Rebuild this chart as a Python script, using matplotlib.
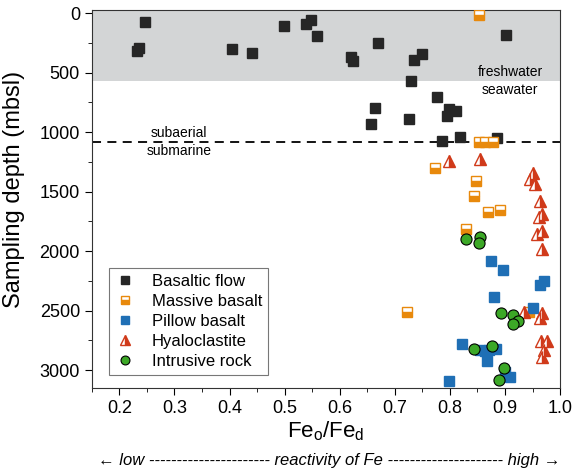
import matplotlib
matplotlib.use('Agg')
import matplotlib.pyplot as plt
from matplotlib.ticker import MultipleLocator

plt.rcParams['font.family'] = ['Liberation Sans', 'DejaVu Sans']
plt.rcParams['mathtext.fontset'] = 'custom'
plt.rcParams['mathtext.rm'] = 'Liberation Sans'
plt.rcParams['mathtext.it'] = 'Liberation Sans:italic'

# Basaltic flow
flow_x = [0.247, 0.236, 0.232, 0.405, 0.441, 0.498, 0.539, 0.547, 0.558, 0.620, 0.625,
          0.670, 0.735, 0.750, 0.729, 0.901, 0.776, 0.664, 0.656, 0.725, 0.798, 0.811,
          0.795, 0.785, 0.818, 0.886]
flow_y = [71, 290, 320, 300, 331, 107, 93, 56, 191, 365, 400,
          247, 393, 342, 567, 180, 701, 799, 931, 889, 807, 819,
          864, 1071, 1038, 1049]

# Massive basalt
mass_x = [0.852, 0.852, 0.864, 0.878, 0.773, 0.847, 0.844, 0.869, 0.891, 0.830, 0.722, 0.944]
mass_y = [15, 1085, 1085, 1085, 1304, 1410, 1534, 1671, 1654, 1812, 2509, 2515]

# Pillow basalt
pill_x = [0.875, 0.896, 0.971, 0.964, 0.880, 0.951, 0.822, 0.855, 0.864, 0.871, 0.884,
          0.868, 0.900, 0.909, 0.798]
pill_y = [2081, 2159, 2252, 2288, 2383, 2476, 2779, 2832, 2840, 2832, 2823,
          2927, 3014, 3056, 3093]

# Hyaloclastite
hyal_x = [0.798, 0.855, 0.950, 0.945, 0.955, 0.964, 0.968, 0.961, 0.968, 0.959, 0.968,
          0.935, 0.968, 0.964, 0.966, 0.976, 0.970, 0.967]
hyal_y = [1242, 1228, 1346, 1394, 1438, 1579, 1688, 1716, 1831, 1859, 1982,
          2515, 2523, 2565, 2754, 2754, 2832, 2888]

# Intrusive rock
intr_x = [0.829, 0.855, 0.853, 0.893, 0.915, 0.924, 0.915, 0.844, 0.876, 0.899, 0.889]
intr_y = [1901, 1884, 1929, 2521, 2540, 2588, 2613, 2826, 2798, 2986, 3084]

fresh_depth = 570
sub_depth = 1080

fig = plt.figure(figsize=(5.81, 4.73), dpi=100)
ax = fig.add_axes([0.158, 0.180, 0.806, 0.799])

ax.axhspan(-30, fresh_depth, color='#d3d5d6', zorder=0, lw=0)
ax.axhline(sub_depth, color='black', ls=(0, (5, 3.5)), lw=1.3, zorder=1)

ax.plot(flow_x, flow_y, 's', color='#262626', ms=7, mec='#262626', label='Basaltic flow', zorder=3)
ax.plot(mass_x, mass_y, 's', color='#e8890c', ms=7, mec='#e8890c', mew=1,
        fillstyle='bottom', markerfacecoloralt='white', label='Massive basalt', zorder=3)
ax.plot(pill_x, pill_y, 's', color='#1f6fb5', ms=7, mec='#1f6fb5', label='Pillow basalt', zorder=3)
ax.plot(hyal_x, hyal_y, '^', color='#d03a1a', ms=8.5, mec='#d03a1a', mew=1,
        fillstyle='right', markerfacecoloralt='white', label='Hyaloclastite', zorder=3)
ax.plot(intr_x, intr_y, 'o', color='#3ca827', ms=8, mec='black', mew=0.8,
        label='Intrusive rock', zorder=4)

ax.text(0.909, 494, 'freshwater', ha='center', va='center', fontsize=10)
ax.text(0.909, 645, 'seawater', ha='center', va='center', fontsize=10)
ax.text(0.309, 1006, 'subaerial', ha='center', va='center', fontsize=10)
ax.text(0.309, 1158, 'submarine', ha='center', va='center', fontsize=10)

ax.set_xlim(0.15, 1.0)
ax.set_ylim(3150, -28)
ax.xaxis.set_major_locator(MultipleLocator(0.1))
ax.xaxis.set_minor_locator(MultipleLocator(0.05))
ax.yaxis.set_major_locator(MultipleLocator(500))
ax.yaxis.set_minor_locator(MultipleLocator(250))
ax.tick_params(which='both', direction='out', labelsize=13)
ax.tick_params(which='major', length=5)
ax.tick_params(which='minor', length=3)
ax.xaxis.set_major_formatter(matplotlib.ticker.FormatStrFormatter('%.1f'))
for s in ax.spines.values():
    s.set_color('#333333')

ax.set_xlabel(r'Fe$_\mathrm{o}$/Fe$_\mathrm{d}$', fontsize=16, labelpad=2)
ax.set_ylabel('Sampling depth (mbsl)', fontsize=17, labelpad=2)
ax.yaxis.set_label_coords(-0.142, 0.525)

leg = ax.legend(loc='lower left', bbox_to_anchor=(0.02, 0.012), fontsize=12,
                frameon=True, fancybox=False, edgecolor='#555555',
                handlelength=1.2, handletextpad=1.0, borderpad=0.35, labelspacing=0.3,
                markerscale=0.8)
leg.get_frame().set_linewidth(0.8)

fig.text(0.567, 1 - 460 / 473, '\u2190 low ---------------------- reactivity of Fe --------------------- high \u2192',
         ha='center', va='center', fontsize=12, style='italic')

fig.savefig('out.png', dpi=100)
